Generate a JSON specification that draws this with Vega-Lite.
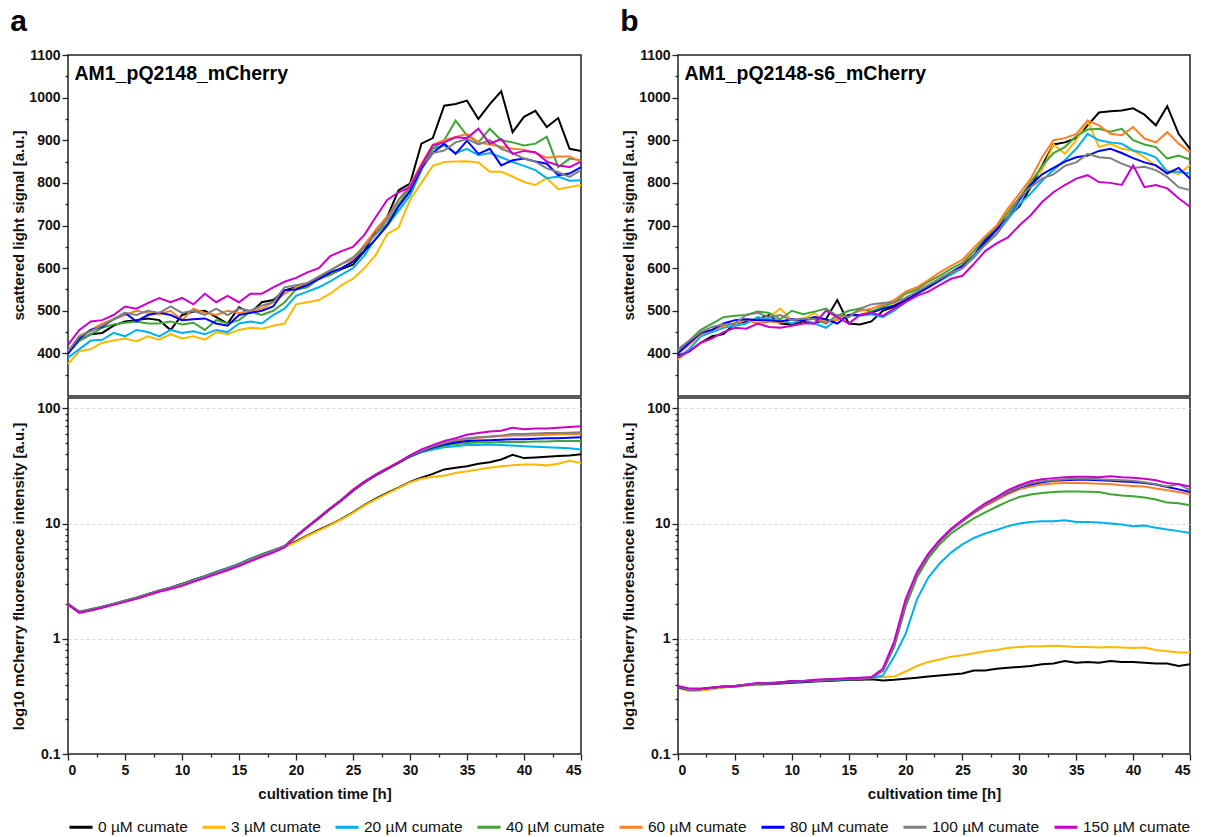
{
"$schema": "https://vega.github.io/schema/vega-lite/v6.json",
"padding": {"left": 10, "top": 7, "right": 5, "bottom": 5},
"autosize": {"type": "pad"},
"config": {
  "font": "Liberation Sans",
  "view": {"stroke": "#222", "strokeWidth": 1.5},
  "axis": {"labelFont": "Liberation Sans", "labelFontWeight": "bold", "labelFontSize": 14, "labelColor": "#111", "titleFont": "Liberation Sans", "titleFontWeight": "bold", "titleFontSize": 15, "titleColor": "#111", "domain": false, "tickColor": "#222", "tickWidth": 1.3, "grid": false},
  "title": {"font": "Liberation Sans", "fontWeight": "bold", "fontSize": 30, "color": "#000"}
},
"datasets": {
"aTop": [
{"t":0,"c0":400,"c3":375,"c20":390,"c40":400,"c60":405,"c80":400,"c100":405,"c150":420},
{"t":1,"c0":430,"c3":405,"c20":410,"c40":430,"c60":440,"c80":435,"c100":440,"c150":455},
{"t":2,"c0":445,"c3":410,"c20":430,"c40":445,"c60":455,"c80":455,"c100":452,"c150":475},
{"t":3,"c0":448,"c3":425,"c20":432,"c40":460,"c60":470,"c80":462,"c100":465,"c150":478},
{"t":4,"c0":465,"c3":430,"c20":448,"c40":468,"c60":480,"c80":480,"c100":480,"c150":490},
{"t":5,"c0":475,"c3":435,"c20":440,"c40":472,"c60":490,"c80":495,"c100":495,"c150":510},
{"t":6,"c0":478,"c3":428,"c20":455,"c40":475,"c60":500,"c80":475,"c100":490,"c150":505},
{"t":7,"c0":482,"c3":440,"c20":450,"c40":470,"c60":495,"c80":490,"c100":500,"c150":518},
{"t":8,"c0":478,"c3":432,"c20":440,"c40":470,"c60":492,"c80":495,"c100":495,"c150":530},
{"t":9,"c0":455,"c3":445,"c20":455,"c40":475,"c60":500,"c80":490,"c100":510,"c150":520},
{"t":10,"c0":490,"c3":435,"c20":448,"c40":468,"c60":478,"c80":478,"c100":495,"c150":530},
{"t":11,"c0":498,"c3":440,"c20":452,"c40":472,"c60":505,"c80":480,"c100":500,"c150":515},
{"t":12,"c0":500,"c3":432,"c20":445,"c40":455,"c60":495,"c80":482,"c100":490,"c150":540},
{"t":13,"c0":485,"c3":450,"c20":455,"c40":478,"c60":490,"c80":470,"c100":505,"c150":520},
{"t":14,"c0":470,"c3":445,"c20":450,"c40":470,"c60":500,"c80":465,"c100":490,"c150":535},
{"t":15,"c0":508,"c3":455,"c20":470,"c40":478,"c60":495,"c80":490,"c100":505,"c150":520},
{"t":16,"c0":495,"c3":460,"c20":475,"c40":498,"c60":500,"c80":495,"c100":500,"c150":540},
{"t":17,"c0":520,"c3":458,"c20":470,"c40":490,"c60":505,"c80":500,"c100":512,"c150":540},
{"t":18,"c0":525,"c3":465,"c20":490,"c40":500,"c60":520,"c80":510,"c100":520,"c150":555},
{"t":19,"c0":548,"c3":470,"c20":505,"c40":520,"c60":540,"c80":548,"c100":555,"c150":568},
{"t":20,"c0":555,"c3":515,"c20":535,"c40":550,"c60":555,"c80":550,"c100":560,"c150":577},
{"t":21,"c0":560,"c3":520,"c20":545,"c40":555,"c60":565,"c80":560,"c100":565,"c150":590},
{"t":22,"c0":575,"c3":525,"c20":555,"c40":575,"c60":580,"c80":575,"c100":580,"c150":600},
{"t":23,"c0":585,"c3":540,"c20":569,"c40":584,"c60":595,"c80":590,"c100":595,"c150":628},
{"t":24,"c0":598,"c3":560,"c20":585,"c40":600,"c60":610,"c80":600,"c100":610,"c150":640},
{"t":25,"c0":608,"c3":575,"c20":600,"c40":615,"c60":620,"c80":615,"c100":625,"c150":650},
{"t":26,"c0":640,"c3":600,"c20":630,"c40":650,"c60":655,"c80":640,"c100":650,"c150":678},
{"t":27,"c0":689,"c3":631,"c20":670,"c40":680,"c60":690,"c80":668,"c100":680,"c150":720},
{"t":28,"c0":720,"c3":680,"c20":700,"c40":705,"c60":720,"c80":700,"c100":715,"c150":760},
{"t":29,"c0":783,"c3":695,"c20":735,"c40":750,"c60":760,"c80":745,"c100":760,"c150":778},
{"t":30,"c0":798,"c3":760,"c20":770,"c40":787,"c60":795,"c80":780,"c100":790,"c150":790},
{"t":31,"c0":892,"c3":800,"c20":830,"c40":840,"c60":845,"c80":835,"c100":840,"c150":840},
{"t":32,"c0":905,"c3":840,"c20":880,"c40":880,"c60":890,"c80":870,"c100":870,"c150":888},
{"t":33,"c0":981,"c3":849,"c20":888,"c40":900,"c60":900,"c80":892,"c100":876,"c150":895},
{"t":34,"c0":985,"c3":850,"c20":870,"c40":946,"c60":908,"c80":868,"c100":895,"c150":907},
{"t":35,"c0":993,"c3":851,"c20":880,"c40":911,"c60":915,"c80":899,"c100":903,"c150":905},
{"t":36,"c0":950,"c3":848,"c20":865,"c40":895,"c60":895,"c80":868,"c100":890,"c150":927},
{"t":37,"c0":985,"c3":826,"c20":870,"c40":927,"c60":890,"c80":880,"c100":900,"c150":892},
{"t":38,"c0":1015,"c3":826,"c20":860,"c40":900,"c60":885,"c80":841,"c100":880,"c150":903},
{"t":39,"c0":919,"c3":815,"c20":849,"c40":895,"c60":880,"c80":853,"c100":870,"c150":868},
{"t":40,"c0":955,"c3":802,"c20":840,"c40":888,"c60":878,"c80":857,"c100":857,"c150":875},
{"t":41,"c0":969,"c3":795,"c20":830,"c40":892,"c60":870,"c80":850,"c100":850,"c150":872},
{"t":42,"c0":931,"c3":811,"c20":811,"c40":908,"c60":859,"c80":845,"c100":834,"c150":850},
{"t":43,"c0":952,"c3":785,"c20":815,"c40":837,"c60":862,"c80":818,"c100":825,"c150":841},
{"t":44,"c0":880,"c3":790,"c20":805,"c40":857,"c60":862,"c80":822,"c100":814,"c150":837},
{"t":45,"c0":875,"c3":795,"c20":806,"c40":853,"c60":850,"c80":837,"c100":830,"c150":850}
],
"aBot": [
{"t":0,"c0":2.0,"c3":1.98,"c20":2.0,"c40":2.01,"c60":1.99,"c80":2.0,"c100":2.0,"c150":1.98},
{"t":1,"c0":1.71,"c3":1.7,"c20":1.72,"c40":1.72,"c60":1.7,"c80":1.7,"c100":1.71,"c150":1.68},
{"t":2,"c0":1.79,"c3":1.78,"c20":1.8,"c40":1.81,"c60":1.78,"c80":1.78,"c100":1.79,"c150":1.76},
{"t":3,"c0":1.89,"c3":1.88,"c20":1.9,"c40":1.9,"c60":1.88,"c80":1.88,"c100":1.89,"c150":1.86},
{"t":4,"c0":2.01,"c3":2.0,"c20":2.02,"c40":2.02,"c60":2.0,"c80":2.0,"c100":2.01,"c150":1.97},
{"t":5,"c0":2.14,"c3":2.12,"c20":2.14,"c40":2.14,"c60":2.12,"c80":2.12,"c100":2.13,"c150":2.09},
{"t":6,"c0":2.27,"c3":2.25,"c20":2.27,"c40":2.28,"c60":2.25,"c80":2.25,"c100":2.26,"c150":2.22},
{"t":7,"c0":2.44,"c3":2.42,"c20":2.44,"c40":2.45,"c60":2.42,"c80":2.42,"c100":2.43,"c150":2.38},
{"t":8,"c0":2.62,"c3":2.6,"c20":2.62,"c40":2.63,"c60":2.6,"c80":2.6,"c100":2.61,"c150":2.56},
{"t":9,"c0":2.78,"c3":2.75,"c20":2.78,"c40":2.78,"c60":2.75,"c80":2.76,"c100":2.76,"c150":2.7},
{"t":10,"c0":3.0,"c3":2.95,"c20":2.98,"c40":2.99,"c60":2.95,"c80":2.96,"c100":2.96,"c150":2.88},
{"t":11,"c0":3.26,"c3":3.2,"c20":3.23,"c40":3.23,"c60":3.2,"c80":3.21,"c100":3.21,"c150":3.12},
{"t":12,"c0":3.5,"c3":3.45,"c20":3.5,"c40":3.48,"c60":3.45,"c80":3.46,"c100":3.46,"c150":3.36},
{"t":13,"c0":3.8,"c3":3.75,"c20":3.8,"c40":3.78,"c60":3.75,"c80":3.76,"c100":3.76,"c150":3.64},
{"t":14,"c0":4.1,"c3":4.05,"c20":4.12,"c40":4.08,"c60":4.05,"c80":4.06,"c100":4.06,"c150":3.93},
{"t":15,"c0":4.45,"c3":4.4,"c20":4.48,"c40":4.45,"c60":4.4,"c80":4.41,"c100":4.42,"c150":4.27},
{"t":16,"c0":4.9,"c3":4.85,"c20":4.95,"c40":4.95,"c60":4.85,"c80":4.88,"c100":4.88,"c150":4.7},
{"t":17,"c0":5.35,"c3":5.3,"c20":5.4,"c40":5.42,"c60":5.3,"c80":5.33,"c100":5.33,"c150":5.15},
{"t":18,"c0":5.8,"c3":5.75,"c20":5.85,"c40":5.88,"c60":5.78,"c80":5.8,"c100":5.8,"c150":5.6},
{"t":19,"c0":6.3,"c3":6.25,"c20":6.4,"c40":6.4,"c60":6.35,"c80":6.35,"c100":6.35,"c150":6.2},
{"t":20,"c0":7.0,"c3":6.9,"c20":7.7,"c40":7.7,"c60":7.8,"c80":7.8,"c100":7.8,"c150":7.7},
{"t":21,"c0":7.9,"c3":7.8,"c20":9.3,"c40":9.3,"c60":9.4,"c80":9.4,"c100":9.4,"c150":9.3},
{"t":22,"c0":8.8,"c3":8.7,"c20":11.1,"c40":11.1,"c60":11.3,"c80":11.2,"c100":11.3,"c150":11.2},
{"t":23,"c0":9.8,"c3":9.7,"c20":13.3,"c40":13.3,"c60":13.6,"c80":13.5,"c100":13.6,"c150":13.5},
{"t":24,"c0":11.0,"c3":10.9,"c20":15.9,"c40":15.9,"c60":16.2,"c80":16.0,"c100":16.2,"c150":16.0},
{"t":25,"c0":12.5,"c3":12.4,"c20":19.2,"c40":19.2,"c60":19.7,"c80":19.4,"c100":19.6,"c150":19.5},
{"t":26,"c0":14.5,"c3":14.3,"c20":22.7,"c40":22.7,"c60":23.2,"c80":22.9,"c100":23.1,"c150":23.0},
{"t":27,"c0":16.5,"c3":16.2,"c20":26.2,"c40":26.2,"c60":26.8,"c80":26.4,"c100":26.7,"c150":26.5},
{"t":28,"c0":18.5,"c3":18.2,"c20":29.7,"c40":29.7,"c60":30.3,"c80":29.9,"c100":30.2,"c150":30.0},
{"t":29,"c0":20.5,"c3":20.3,"c20":33.5,"c40":33.6,"c60":34.2,"c80":33.8,"c100":34.0,"c150":34.0},
{"t":30,"c0":23.0,"c3":22.8,"c20":38.0,"c40":38.2,"c60":38.8,"c80":38.4,"c100":38.7,"c150":39.0},
{"t":31,"c0":25.0,"c3":24.5,"c20":41.5,"c40":42.0,"c60":42.8,"c80":42.3,"c100":42.8,"c150":44.0},
{"t":32,"c0":27.0,"c3":25.5,"c20":44.0,"c40":45.0,"c60":46.5,"c80":45.8,"c100":46.5,"c150":48.0},
{"t":33,"c0":29.5,"c3":26.0,"c20":46.0,"c40":47.5,"c60":49.5,"c80":48.5,"c100":50.0,"c150":52.0},
{"t":34,"c0":30.5,"c3":27.5,"c20":47.0,"c40":49.0,"c60":52.0,"c80":50.5,"c100":53.0,"c150":55.0},
{"t":35,"c0":31.5,"c3":28.5,"c20":48.0,"c40":50.0,"c60":54.0,"c80":52.0,"c100":55.0,"c150":59.0},
{"t":36,"c0":33.0,"c3":29.5,"c20":48.0,"c40":50.5,"c60":55.5,"c80":52.5,"c100":56.0,"c150":61.0},
{"t":37,"c0":34.0,"c3":30.5,"c20":48.5,"c40":50.5,"c60":56.5,"c80":53.0,"c100":57.0,"c150":63.0},
{"t":38,"c0":36.0,"c3":31.5,"c20":48.0,"c40":51.0,"c60":57.5,"c80":53.5,"c100":58.0,"c150":64.0},
{"t":39,"c0":39.5,"c3":32.0,"c20":47.5,"c40":51.0,"c60":58.0,"c80":54.0,"c100":60.0,"c150":68.0},
{"t":40,"c0":37.0,"c3":32.5,"c20":47.0,"c40":51.0,"c60":58.0,"c80":54.0,"c100":60.0,"c150":66.0},
{"t":41,"c0":37.5,"c3":32.5,"c20":46.5,"c40":51.5,"c60":58.5,"c80":54.5,"c100":60.5,"c150":67.0},
{"t":42,"c0":38.0,"c3":32.0,"c20":46.0,"c40":51.5,"c60":59.0,"c80":55.0,"c100":61.0,"c150":67.0},
{"t":43,"c0":38.5,"c3":33.0,"c20":45.5,"c40":52.0,"c60":59.5,"c80":55.0,"c100":61.0,"c150":68.0},
{"t":44,"c0":39.0,"c3":35.0,"c20":45.0,"c40":52.0,"c60":60.0,"c80":55.5,"c100":61.5,"c150":69.0},
{"t":45,"c0":40.0,"c3":33.5,"c20":44.0,"c40":52.0,"c60":60.0,"c80":56.0,"c100":62.0,"c150":70.0}
],
"bTop": [
{"t":0,"c0":395,"c3":385,"c20":390,"c40":405,"c60":400,"c80":400,"c100":410,"c150":390},
{"t":1,"c0":405,"c3":410,"c20":410,"c40":430,"c60":420,"c80":425,"c100":430,"c150":405},
{"t":2,"c0":425,"c3":440,"c20":440,"c40":455,"c60":445,"c80":448,"c100":450,"c150":425},
{"t":3,"c0":440,"c3":455,"c20":450,"c40":470,"c60":455,"c80":455,"c100":462,"c150":435},
{"t":4,"c0":445,"c3":465,"c20":460,"c40":485,"c60":465,"c80":470,"c100":468,"c150":450},
{"t":5,"c0":470,"c3":470,"c20":465,"c40":488,"c60":470,"c80":478,"c100":470,"c150":460},
{"t":6,"c0":475,"c3":480,"c20":470,"c40":490,"c60":478,"c80":480,"c100":490,"c150":458},
{"t":7,"c0":480,"c3":478,"c20":485,"c40":498,"c60":470,"c80":478,"c100":495,"c150":470},
{"t":8,"c0":490,"c3":485,"c20":480,"c40":495,"c60":475,"c80":478,"c100":485,"c150":462},
{"t":9,"c0":470,"c3":505,"c20":478,"c40":480,"c60":472,"c80":475,"c100":490,"c150":460},
{"t":10,"c0":468,"c3":478,"c20":470,"c40":500,"c60":480,"c80":480,"c100":478,"c150":465},
{"t":11,"c0":475,"c3":480,"c20":480,"c40":492,"c60":478,"c80":478,"c100":482,"c150":470},
{"t":12,"c0":470,"c3":495,"c20":470,"c40":498,"c60":482,"c80":485,"c100":480,"c150":470},
{"t":13,"c0":480,"c3":470,"c20":460,"c40":505,"c60":475,"c80":480,"c100":470,"c150":500},
{"t":14,"c0":525,"c3":485,"c20":480,"c40":488,"c60":478,"c80":470,"c100":490,"c150":485},
{"t":15,"c0":470,"c3":490,"c20":490,"c40":500,"c60":490,"c80":490,"c100":485,"c150":470},
{"t":16,"c0":468,"c3":490,"c20":488,"c40":505,"c60":500,"c80":490,"c100":505,"c150":490},
{"t":17,"c0":475,"c3":500,"c20":492,"c40":498,"c60":505,"c80":495,"c100":515,"c150":495},
{"t":18,"c0":500,"c3":505,"c20":485,"c40":510,"c60":515,"c80":505,"c100":518,"c150":488},
{"t":19,"c0":510,"c3":515,"c20":500,"c40":520,"c60":525,"c80":512,"c100":520,"c150":505},
{"t":20,"c0":525,"c3":530,"c20":520,"c40":540,"c60":545,"c80":525,"c100":530,"c150":520},
{"t":21,"c0":540,"c3":545,"c20":540,"c40":550,"c60":555,"c80":540,"c100":545,"c150":535},
{"t":22,"c0":558,"c3":560,"c20":555,"c40":568,"c60":572,"c80":555,"c100":560,"c150":545},
{"t":23,"c0":575,"c3":575,"c20":570,"c40":582,"c60":590,"c80":572,"c100":575,"c150":560},
{"t":24,"c0":590,"c3":590,"c20":585,"c40":598,"c60":605,"c80":590,"c100":590,"c150":575},
{"t":25,"c0":605,"c3":605,"c20":600,"c40":612,"c60":620,"c80":605,"c100":600,"c150":582},
{"t":26,"c0":630,"c3":640,"c20":625,"c40":640,"c60":648,"c80":630,"c100":630,"c150":610},
{"t":27,"c0":660,"c3":665,"c20":655,"c40":670,"c60":675,"c80":665,"c100":655,"c150":640},
{"t":28,"c0":690,"c3":690,"c20":680,"c40":695,"c60":700,"c80":690,"c100":680,"c150":658},
{"t":29,"c0":720,"c3":740,"c20":715,"c40":730,"c60":740,"c80":720,"c100":720,"c150":672},
{"t":30,"c0":745,"c3":760,"c20":750,"c40":765,"c60":775,"c80":760,"c100":765,"c150":700},
{"t":31,"c0":790,"c3":806,"c20":775,"c40":800,"c60":810,"c80":795,"c100":790,"c150":724},
{"t":32,"c0":840,"c3":830,"c20":805,"c40":840,"c60":860,"c80":820,"c100":810,"c150":755},
{"t":33,"c0":890,"c3":890,"c20":830,"c40":870,"c60":900,"c80":835,"c100":820,"c150":778},
{"t":34,"c0":895,"c3":868,"c20":853,"c40":884,"c60":905,"c80":850,"c100":840,"c150":795},
{"t":35,"c0":905,"c3":900,"c20":880,"c40":910,"c60":915,"c80":860,"c100":848,"c150":810},
{"t":36,"c0":935,"c3":946,"c20":915,"c40":925,"c60":946,"c80":864,"c100":868,"c150":818},
{"t":37,"c0":965,"c3":884,"c20":900,"c40":927,"c60":935,"c80":875,"c100":860,"c150":802},
{"t":38,"c0":968,"c3":892,"c20":895,"c40":920,"c60":915,"c80":880,"c100":858,"c150":800},
{"t":39,"c0":970,"c3":880,"c20":892,"c40":927,"c60":912,"c80":870,"c100":845,"c150":795},
{"t":40,"c0":975,"c3":876,"c20":876,"c40":900,"c60":931,"c80":858,"c100":835,"c150":841},
{"t":41,"c0":960,"c3":860,"c20":870,"c40":890,"c60":904,"c80":848,"c100":838,"c150":790},
{"t":42,"c0":935,"c3":840,"c20":860,"c40":884,"c60":895,"c80":841,"c100":830,"c150":795},
{"t":43,"c0":980,"c3":830,"c20":826,"c40":857,"c60":919,"c80":822,"c100":814,"c150":787},
{"t":44,"c0":915,"c3":820,"c20":826,"c40":864,"c60":892,"c80":835,"c100":790,"c150":764},
{"t":45,"c0":880,"c3":842,"c20":822,"c40":855,"c60":872,"c80":810,"c100":783,"c150":744}
],
"bBot": [
{"t":0,"c0":0.38,"c3":0.375,"c20":0.38,"c40":0.385,"c60":0.38,"c80":0.38,"c100":0.385,"c150":0.39},
{"t":1,"c0":0.355,"c3":0.35,"c20":0.36,"c40":0.36,"c60":0.36,"c80":0.36,"c100":0.36,"c150":0.37},
{"t":2,"c0":0.36,"c3":0.355,"c20":0.365,"c40":0.365,"c60":0.365,"c80":0.365,"c100":0.365,"c150":0.37},
{"t":3,"c0":0.37,"c3":0.365,"c20":0.375,"c40":0.375,"c60":0.375,"c80":0.375,"c100":0.375,"c150":0.378},
{"t":4,"c0":0.38,"c3":0.38,"c20":0.385,"c40":0.385,"c60":0.385,"c80":0.385,"c100":0.385,"c150":0.385},
{"t":5,"c0":0.385,"c3":0.385,"c20":0.39,"c40":0.39,"c60":0.39,"c80":0.39,"c100":0.39,"c150":0.385},
{"t":6,"c0":0.395,"c3":0.395,"c20":0.4,"c40":0.4,"c60":0.4,"c80":0.4,"c100":0.4,"c150":0.4},
{"t":7,"c0":0.4,"c3":0.4,"c20":0.405,"c40":0.41,"c60":0.405,"c80":0.405,"c100":0.405,"c150":0.415},
{"t":8,"c0":0.405,"c3":0.41,"c20":0.41,"c40":0.415,"c60":0.41,"c80":0.41,"c100":0.41,"c150":0.405},
{"t":9,"c0":0.41,"c3":0.415,"c20":0.415,"c40":0.42,"c60":0.415,"c80":0.415,"c100":0.42,"c150":0.42},
{"t":10,"c0":0.415,"c3":0.425,"c20":0.42,"c40":0.425,"c60":0.425,"c80":0.425,"c100":0.425,"c150":0.43},
{"t":11,"c0":0.42,"c3":0.43,"c20":0.425,"c40":0.43,"c60":0.43,"c80":0.43,"c100":0.43,"c150":0.425},
{"t":12,"c0":0.425,"c3":0.435,"c20":0.43,"c40":0.435,"c60":0.435,"c80":0.435,"c100":0.435,"c150":0.44},
{"t":13,"c0":0.43,"c3":0.44,"c20":0.435,"c40":0.44,"c60":0.44,"c80":0.44,"c100":0.44,"c150":0.445},
{"t":14,"c0":0.435,"c3":0.445,"c20":0.44,"c40":0.445,"c60":0.445,"c80":0.445,"c100":0.445,"c150":0.45},
{"t":15,"c0":0.44,"c3":0.45,"c20":0.445,"c40":0.45,"c60":0.45,"c80":0.45,"c100":0.45,"c150":0.455},
{"t":16,"c0":0.44,"c3":0.455,"c20":0.45,"c40":0.455,"c60":0.455,"c80":0.455,"c100":0.455,"c150":0.46},
{"t":17,"c0":0.445,"c3":0.46,"c20":0.455,"c40":0.46,"c60":0.46,"c80":0.46,"c100":0.46,"c150":0.465},
{"t":18,"c0":0.435,"c3":0.465,"c20":0.48,"c40":0.53,"c60":0.53,"c80":0.53,"c100":0.53,"c150":0.55},
{"t":19,"c0":0.44,"c3":0.47,"c20":0.7,"c40":0.85,"c60":0.88,"c80":0.88,"c100":0.88,"c150":0.95},
{"t":20,"c0":0.45,"c3":0.52,"c20":1.1,"c40":1.9,"c60":2.0,"c80":2.0,"c100":2.0,"c150":2.2},
{"t":21,"c0":0.46,"c3":0.58,"c20":2.2,"c40":3.4,"c60":3.6,"c80":3.6,"c100":3.6,"c150":3.8},
{"t":22,"c0":0.47,"c3":0.63,"c20":3.4,"c40":5.0,"c60":5.3,"c80":5.3,"c100":5.3,"c150":5.5},
{"t":23,"c0":0.48,"c3":0.66,"c20":4.5,"c40":6.6,"c60":7.0,"c80":7.0,"c100":7.0,"c150":7.2},
{"t":24,"c0":0.49,"c3":0.7,"c20":5.6,"c40":8.2,"c60":8.8,"c80":8.8,"c100":8.8,"c150":9.0},
{"t":25,"c0":0.5,"c3":0.72,"c20":6.6,"c40":9.6,"c60":10.5,"c80":10.5,"c100":10.5,"c150":10.8},
{"t":26,"c0":0.53,"c3":0.75,"c20":7.5,"c40":11.1,"c60":12.3,"c80":12.5,"c100":12.5,"c150":12.8},
{"t":27,"c0":0.53,"c3":0.78,"c20":8.2,"c40":12.5,"c60":14.2,"c80":14.5,"c100":14.5,"c150":15.0},
{"t":28,"c0":0.55,"c3":0.8,"c20":8.8,"c40":14.0,"c60":16.0,"c80":16.5,"c100":16.5,"c150":17.0},
{"t":29,"c0":0.56,"c3":0.83,"c20":9.5,"c40":15.6,"c60":18.0,"c80":18.6,"c100":18.8,"c150":19.5},
{"t":30,"c0":0.57,"c3":0.85,"c20":10.0,"c40":17.0,"c60":19.8,"c80":20.5,"c100":20.8,"c150":21.5},
{"t":31,"c0":0.58,"c3":0.86,"c20":10.3,"c40":17.9,"c60":21.0,"c80":21.8,"c100":22.4,"c150":23.3},
{"t":32,"c0":0.6,"c3":0.86,"c20":10.5,"c40":18.4,"c60":21.8,"c80":22.8,"c100":23.3,"c150":24.2},
{"t":33,"c0":0.61,"c3":0.87,"c20":10.5,"c40":18.8,"c60":22.3,"c80":23.5,"c100":23.8,"c150":24.8},
{"t":34,"c0":0.64,"c3":0.86,"c20":10.7,"c40":19.0,"c60":22.5,"c80":23.8,"c100":24.2,"c150":25.2},
{"t":35,"c0":0.62,"c3":0.85,"c20":10.3,"c40":19.0,"c60":22.5,"c80":24.0,"c100":24.5,"c150":25.5},
{"t":36,"c0":0.63,"c3":0.85,"c20":10.3,"c40":18.9,"c60":22.4,"c80":24.0,"c100":24.5,"c150":25.5},
{"t":37,"c0":0.62,"c3":0.84,"c20":10.2,"c40":18.8,"c60":22.2,"c80":23.8,"c100":24.3,"c150":25.3},
{"t":38,"c0":0.64,"c3":0.85,"c20":10.0,"c40":18.0,"c60":22.0,"c80":23.5,"c100":24.0,"c150":25.8},
{"t":39,"c0":0.63,"c3":0.84,"c20":9.8,"c40":17.5,"c60":21.5,"c80":23.2,"c100":23.8,"c150":25.2},
{"t":40,"c0":0.63,"c3":0.83,"c20":9.5,"c40":17.3,"c60":21.2,"c80":23.0,"c100":23.5,"c150":25.0},
{"t":41,"c0":0.62,"c3":0.84,"c20":9.6,"c40":16.8,"c60":21.0,"c80":22.5,"c100":22.8,"c150":24.5},
{"t":42,"c0":0.61,"c3":0.8,"c20":9.2,"c40":16.2,"c60":20.2,"c80":21.8,"c100":22.0,"c150":23.8},
{"t":43,"c0":0.61,"c3":0.78,"c20":8.9,"c40":15.2,"c60":19.5,"c80":20.8,"c100":21.0,"c150":22.5},
{"t":44,"c0":0.58,"c3":0.76,"c20":8.6,"c40":15.0,"c60":18.8,"c80":19.8,"c100":22.0,"c150":22.0},
{"t":45,"c0":0.6,"c3":0.76,"c20":8.3,"c40":14.4,"c60":18.0,"c80":18.8,"c100":19.5,"c150":21.0}
]
},
"spacing": 34,
"hconcat": [
{
 "title": {"text": "a", "anchor": "start", "frame": "bounds", "offset": 10},
 "spacing": 0,
 "vconcat": [
  {
   "width": 513, "height": 341,
   "data": {"name": "aTop"},
   "transform": [{"fold": ["c0","c3","c20","c40","c60","c80","c100","c150"], "as": ["series","v"]}],
   "mark": {"type": "line", "strokeWidth": 2},
   "encoding": {
    "x": {"field": "t", "type": "quantitative", "scale": {"domain": [0,45], "nice": false, "zero": false},
          "axis": {"orient": "top", "title": "AM1_pQ2148_mCherry", "ticks": false, "labels": false, "domain": false, "grid": false,
                   "titleX": 6, "titleY": 24, "titleAlign": "left", "titleAnchor": "start", "titleBaseline": "alphabetic", "titleFontSize": 19.5, "titleColor": "#000"}},
    "y": {"field": "v", "type": "quantitative", "scale": {"domain": [300,1100], "nice": false, "zero": false},
          "axis": {"title": "scattered light signal [a.u.]", "values": [350,400,450,500,550,600,650,700,750,800,850,900,950,1000,1050,1100],
                   "labelExpr": "datum.value % 100 === 0 ? format(datum.value, 'd') : ''",
                   "tickSize": {"condition": {"test": "datum.value % 100 === 0", "value": 6}, "value": 3},
                   "titleX": -42, "titleY": 170, "titleBaseline": "bottom"}},
    "color": {"field": "series", "type": "nominal",
              "scale": {"domain": ["c0","c3","c20","c40","c60","c80","c100","c150"], "range": ["#000000","#FFB800","#00B0F0","#3FA535","#FF7F27","#0000FF","#7F7F7F","#CC00CC"]},
              "legend": {"title": null, "orient": "none", "legendX": 0, "legendY": 759, "direction": "horizontal", "symbolType": "stroke", "symbolStrokeWidth": 3, "symbolSize": 529, "labelFontSize": 15.5, "labelFont": "Liberation Sans", "labelColor": "#111", "columnPadding": 8, "labelOffset": 4, "labelExpr": "replace(datum.label, 'c', '') + ' µM cumate'"}}
   }
  },
  {
   "width": 513, "height": 356,
   "data": {"name": "aBot"},
   "transform": [{"fold": ["c0","c3","c20","c40","c60","c80","c100","c150"], "as": ["series","v"]}],
   "mark": {"type": "line", "strokeWidth": 2},
   "encoding": {
    "x": {"field": "t", "type": "quantitative", "scale": {"domain": [0,45], "nice": false, "zero": false},
          "axis": {"title": "cultivation time [h]", "values": [0,2.5,5,7.5,10,12.5,15,17.5,20,22.5,25,27.5,30,32.5,35,37.5,40,42.5,45],
                   "labelExpr": "datum.value % 5 === 0 ? datum.label : ''",
                   "tickSize": {"condition": {"test": "datum.value % 5 === 0", "value": 6}, "value": 3},
                   "labelPadding": 3, "titlePadding": 9}},
    "y": {"field": "v", "type": "quantitative", "scale": {"type": "log", "domain": [0.1,123], "nice": false},
          "axis": {"title": "log10 mCherry fluorescence intensity [a.u.]", "format": "~g",
                   "values": [0.1,0.2,0.3,0.4,0.5,0.6,0.7,0.8,0.9,1,2,3,4,5,6,7,8,9,10,20,30,40,50,60,70,80,90,100],
                   "labelExpr": "indexof([0.1,1,10,100], datum.value) >= 0 ? datum.label : ''",
                   "tickSize": {"condition": {"test": "indexof([0.1,1,10,100], datum.value) >= 0", "value": 6}, "value": 3},
                   "grid": true, "gridColor": "#cccccc", "gridDash": [3,3], "gridWidth": 0.8,
                   "gridOpacity": {"condition": {"test": "indexof([1,10,100], datum.value) >= 0", "value": 1}, "value": 0},
                   "titleX": -42, "titleY": 178, "titleBaseline": "bottom"}},
    "color": {"field": "series", "type": "nominal",
              "scale": {"domain": ["c0","c3","c20","c40","c60","c80","c100","c150"], "range": ["#000000","#FFB800","#00B0F0","#3FA535","#FF7F27","#0000FF","#7F7F7F","#CC00CC"]},
              "legend": {"title": null, "orient": "none", "legendX": 0, "legendY": 759, "direction": "horizontal", "symbolType": "stroke", "symbolStrokeWidth": 3, "symbolSize": 529, "labelFontSize": 15.5, "labelFont": "Liberation Sans", "labelColor": "#111", "columnPadding": 8, "labelOffset": 4, "labelExpr": "replace(datum.label, 'c', '') + ' µM cumate'"}}
   }
  }
 ]
},
{
 "title": {"text": "b", "anchor": "start", "frame": "bounds", "offset": 10},
 "spacing": 0,
 "vconcat": [
  {
   "width": 512, "height": 341,
   "data": {"name": "bTop"},
   "transform": [{"fold": ["c0","c3","c20","c40","c60","c80","c100","c150"], "as": ["series","v"]}],
   "mark": {"type": "line", "strokeWidth": 2},
   "encoding": {
    "x": {"field": "t", "type": "quantitative", "scale": {"domain": [0,45], "nice": false, "zero": false},
          "axis": {"orient": "top", "title": "AM1_pQ2148-s6_mCherry", "ticks": false, "labels": false, "domain": false, "grid": false,
                   "titleX": 6, "titleY": 24, "titleAlign": "left", "titleAnchor": "start", "titleBaseline": "alphabetic", "titleFontSize": 19.5, "titleColor": "#000"}},
    "y": {"field": "v", "type": "quantitative", "scale": {"domain": [300,1100], "nice": false, "zero": false},
          "axis": {"title": "scattered light signal [a.u.]", "values": [350,400,450,500,550,600,650,700,750,800,850,900,950,1000,1050,1100],
                   "labelExpr": "datum.value % 100 === 0 ? format(datum.value, 'd') : ''",
                   "tickSize": {"condition": {"test": "datum.value % 100 === 0", "value": 6}, "value": 3},
                   "titleX": -42, "titleY": 170, "titleBaseline": "bottom"}},
    "color": {"field": "series", "type": "nominal",
              "scale": {"domain": ["c0","c3","c20","c40","c60","c80","c100","c150"], "range": ["#000000","#FFB800","#00B0F0","#3FA535","#FF7F27","#0000FF","#7F7F7F","#CC00CC"]},
              "legend": {"title": null, "orient": "none", "legendX": 0, "legendY": 759, "direction": "horizontal", "symbolType": "stroke", "symbolStrokeWidth": 3, "symbolSize": 529, "labelFontSize": 15.5, "labelFont": "Liberation Sans", "labelColor": "#111", "columnPadding": 8, "labelOffset": 4, "labelExpr": "replace(datum.label, 'c', '') + ' µM cumate'"}}
   }
  },
  {
   "width": 512, "height": 356,
   "data": {"name": "bBot"},
   "transform": [{"fold": ["c0","c3","c20","c40","c60","c80","c100","c150"], "as": ["series","v"]}],
   "mark": {"type": "line", "strokeWidth": 2},
   "encoding": {
    "x": {"field": "t", "type": "quantitative", "scale": {"domain": [0,45], "nice": false, "zero": false},
          "axis": {"title": "cultivation time [h]", "values": [0,2.5,5,7.5,10,12.5,15,17.5,20,22.5,25,27.5,30,32.5,35,37.5,40,42.5,45],
                   "labelExpr": "datum.value % 5 === 0 ? datum.label : ''",
                   "tickSize": {"condition": {"test": "datum.value % 5 === 0", "value": 6}, "value": 3},
                   "labelPadding": 3, "titlePadding": 9}},
    "y": {"field": "v", "type": "quantitative", "scale": {"type": "log", "domain": [0.1,123], "nice": false},
          "axis": {"title": "log10 mCherry fluorescence intensity [a.u.]", "format": "~g",
                   "values": [0.1,0.2,0.3,0.4,0.5,0.6,0.7,0.8,0.9,1,2,3,4,5,6,7,8,9,10,20,30,40,50,60,70,80,90,100],
                   "labelExpr": "indexof([0.1,1,10,100], datum.value) >= 0 ? datum.label : ''",
                   "tickSize": {"condition": {"test": "indexof([0.1,1,10,100], datum.value) >= 0", "value": 6}, "value": 3},
                   "grid": true, "gridColor": "#cccccc", "gridDash": [3,3], "gridWidth": 0.8,
                   "gridOpacity": {"condition": {"test": "indexof([1,10,100], datum.value) >= 0", "value": 1}, "value": 0},
                   "titleX": -42, "titleY": 178, "titleBaseline": "bottom"}},
    "color": {"field": "series", "type": "nominal",
              "scale": {"domain": ["c0","c3","c20","c40","c60","c80","c100","c150"], "range": ["#000000","#FFB800","#00B0F0","#3FA535","#FF7F27","#0000FF","#7F7F7F","#CC00CC"]},
              "legend": {"title": null, "orient": "none", "legendX": 0, "legendY": 759, "direction": "horizontal", "symbolType": "stroke", "symbolStrokeWidth": 3, "symbolSize": 529, "labelFontSize": 15.5, "labelFont": "Liberation Sans", "labelColor": "#111", "columnPadding": 8, "labelOffset": 4, "labelExpr": "replace(datum.label, 'c', '') + ' µM cumate'"}}
   }
  }
 ]
}
]
}
